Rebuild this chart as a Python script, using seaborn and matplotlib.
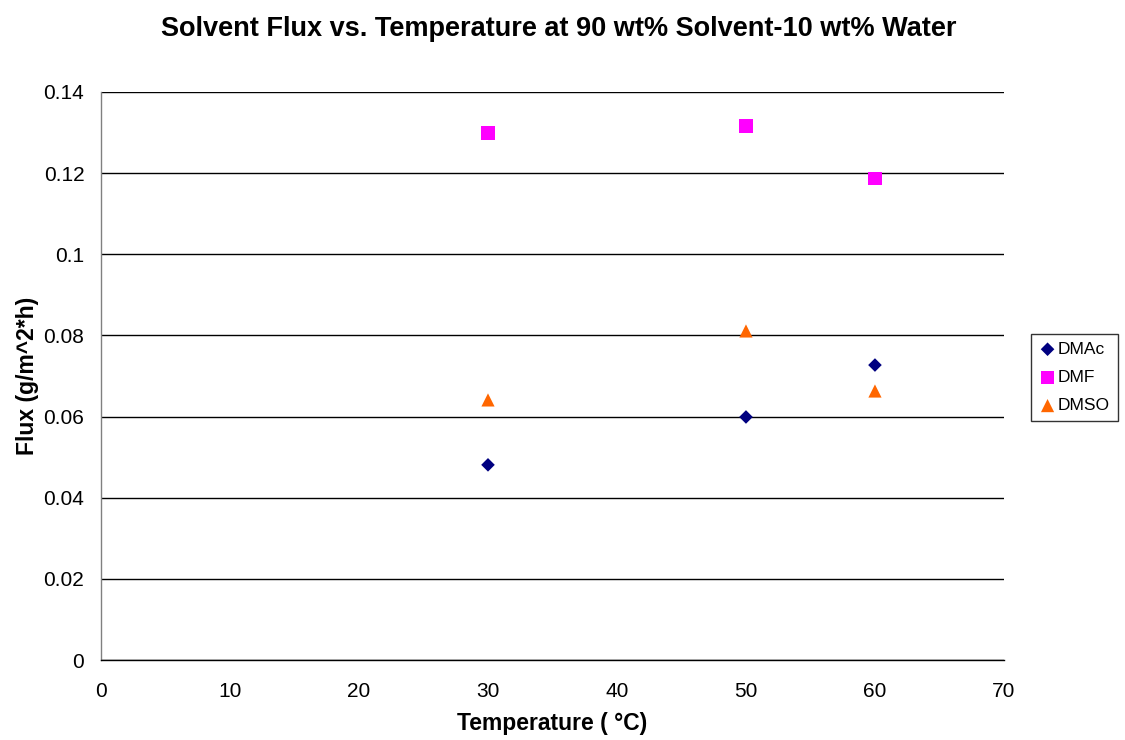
import matplotlib
matplotlib.use("Agg")
import matplotlib.pyplot as plt
import seaborn as sns
import pandas as pd

temperature = [30, 50, 60]
dmac_flux = [0.0481, 0.0599, 0.0727]
dmf_flux = [0.1299, 0.1316, 0.1186]
dmso_flux = [0.0641, 0.0811, 0.0663]

series_names = ["DMAc", "DMF", "DMSO"]
colors = {"DMAc": "#000080", "DMF": "#FF00FF", "DMSO": "#FF6600"}
markers = {"DMAc": "D", "DMF": "s", "DMSO": "^"}
sizes = {"DMAc": 48, "DMF": 90, "DMSO": 90}

df = pd.DataFrame({
    "Temperature": temperature * 3,
    "Flux": dmac_flux + dmf_flux + dmso_flux,
    "Solvent": [n for n in series_names for _ in temperature],
})

sns.set_theme(style="white")
plt.rcParams["font.family"] = ["Liberation Sans", "DejaVu Sans"]
plt.rcParams["text.color"] = "black"
plt.rcParams["axes.labelcolor"] = "black"
plt.rcParams["xtick.color"] = "black"
plt.rcParams["ytick.color"] = "black"

fig = plt.figure(figsize=(11.25, 7.4), dpi=100)
ax = fig.add_axes([0.0898, 0.1081, 0.8026, 0.7676])

for name in series_names:
    sub = df[df["Solvent"] == name]
    sns.scatterplot(data=sub, x="Temperature", y="Flux", ax=ax,
                    color=colors[name], marker=markers[name], s=sizes[name],
                    edgecolor="none", linewidth=0, label=name, zorder=3)

ax.set_xlim(0, 70)
ax.set_ylim(0, 0.14)
ax.set_xticks(range(0, 71, 10))
ax.set_yticks([0, 0.02, 0.04, 0.06, 0.08, 0.1, 0.12, 0.14])
ax.set_yticklabels(["0", "0.02", "0.04", "0.06", "0.08", "0.1", "0.12", "0.14"])

ax.yaxis.grid(True, color="black", linewidth=1.0)
ax.set_axisbelow(True)
for side in ("top", "right"):
    ax.spines[side].set_visible(False)
ax.spines["left"].set_color("#808080")
ax.spines["bottom"].set_color("black")
ax.spines["left"].set_linewidth(1.0)
ax.spines["bottom"].set_linewidth(1.0)
ax.tick_params(axis="both", which="major", direction="out", length=6,
               width=1, color="#808080", labelsize=15, pad=6, labelcolor="black")
ax.tick_params(axis="x", pad=10)

ax.set_xlabel("Temperature ( °C)", fontsize=16.5, fontweight="bold", labelpad=8)
ax.set_ylabel("Flux (g/m^2*h)", fontsize=16.5, fontweight="bold", labelpad=3)
fig.suptitle("Solvent Flux vs. Temperature at 90 wt% Solvent-10 wt% Water",
             fontsize=19.5, fontweight="bold", x=0.497, y=0.979, color="black")

leg = ax.legend(loc="center left", bbox_to_anchor=(0.9165, 0.49),
                bbox_transform=fig.transFigure, frameon=True, fancybox=False,
                fontsize=12.5, handletextpad=0.1, borderpad=0.45,
                labelspacing=0.75, handlelength=1.0, borderaxespad=0)
leg.get_frame().set_edgecolor("black")
leg.get_frame().set_linewidth(1.0)
for t in leg.get_texts():
    t.set_color("black")

fig.savefig("out.png", dpi=100)
